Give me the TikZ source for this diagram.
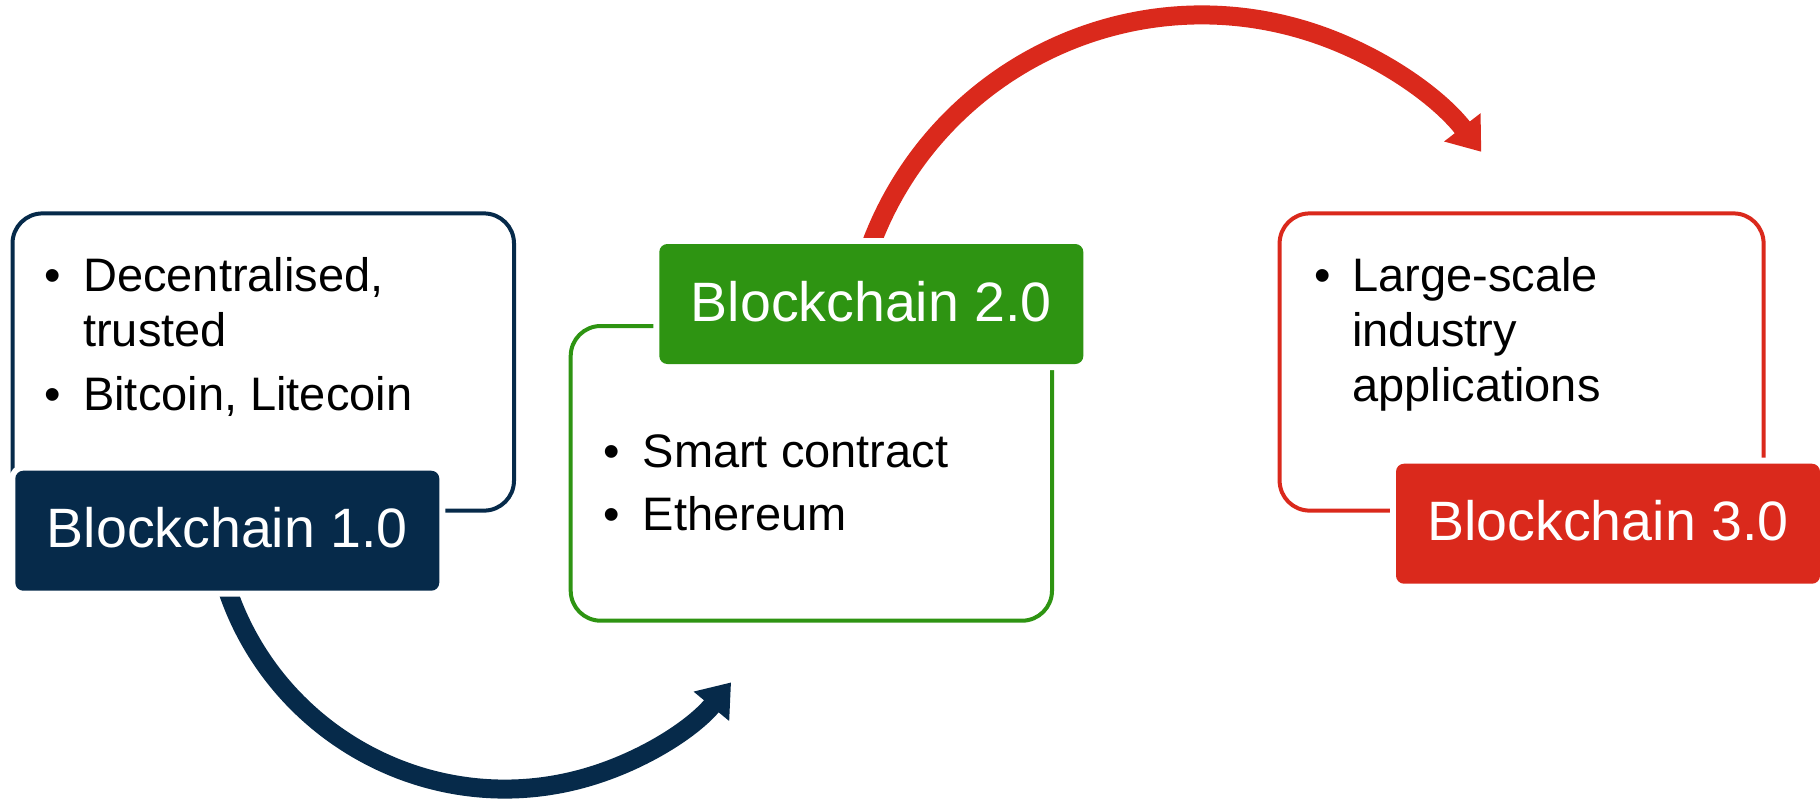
\documentclass[tikz,border=0pt]{standalone}
\usepackage{fontspec}
\setmainfont{Liberation Sans}
\usetikzlibrary{arrows.meta}
\definecolor{bcnavy}{HTML}{062A4A}
\definecolor{bcgreen}{HTML}{2E9412}
\definecolor{bcred}{HTML}{DA291C}
\begin{document}
\begin{tikzpicture}[x=0.5pt,y=0.5pt,
  panel/.style={draw=#1, line width=2pt, rounded corners=15pt, inner sep=0pt, fill=none},
  tag/.style={fill=#1, preaction={draw=white, line width=6pt}, rounded corners=4pt,
    minimum width=212pt, minimum height=60pt, inner sep=0pt, text=white,
    font=\fontsize{27.75pt}{33pt}\selectfont, text height=20pt, text depth=3pt},
  flow/.style={draw=#1, line width=9.5pt, -{Triangle[length=15.5pt,width=22pt]}},
  btxt/.style={anchor=base west, inner sep=0pt, font=\fontsize{23.5pt}{28pt}\selectfont},
  bdot/.style={anchor=base, inner sep=0pt, font=\fontsize{23.5pt}{28pt}\selectfont}]
\useasboundingbox (0,0) rectangle (1820,-799);

% outlined panels
\node[panel=bcnavy, minimum width=250.75pt, minimum height=148.6pt] (box1) at (263.25,-362) {};
\node[panel=bcgreen, minimum width=240.65pt, minimum height=147.35pt] (box2) at (811.35,-473.35) {};
\node[panel=bcred, minimum width=242pt, minimum height=148.6pt] (box3) at (1521.6,-362) {};

% curved arrows between the stages
\coordinate (c12) at (505,-496);
\coordinate (c23) at (1202,-368.5);
\draw[flow=bcnavy] (c12) ++(195:293) arc[start angle=195, end angle=320.5, radius=293];
\draw[flow=bcred] (c23) ++(162:353.5) arc[start angle=162, end angle=37.8, radius=353.5];

% stage labels
\node[tag=bcnavy] (lab1) at (227.3,-530.7) {Blockchain 1.0};
\node[tag=bcgreen] (lab2) at (871.3,-304) {Blockchain 2.0};
\node[tag=bcred] (lab3) at (1608,-523.7) {Blockchain 3.0};

% bullet texts
\node[bdot] (d1a) at (52.4,-291.7) {•};
\node[btxt] (t1a) at (82.8,-291.7) {Decentralised,};
\node[btxt] (t1b) at (82.8,-346.7) {trusted};
\node[bdot] (d1b) at (52.4,-410.7) {•};
\node[btxt] (t1c) at (82.8,-410.7) {Bitcoin, Litecoin};

\node[bdot] (d2a) at (611.3,-467.3) {•};
\node[btxt] (t2a) at (642.3,-467.3) {Smart contract};
\node[bdot] (d2b) at (611.3,-530) {•};
\node[btxt] (t2b) at (642.3,-530) {Ethereum};

\node[bdot] (d3a) at (1322.5,-291.7) {•};
\node[btxt] (t3a) at (1352,-291.7) {Large-scale};
\node[btxt] (t3b) at (1352,-346.7) {industry};
\node[btxt] (t3c) at (1352,-401.7) {applications};
\end{tikzpicture}
\end{document}
